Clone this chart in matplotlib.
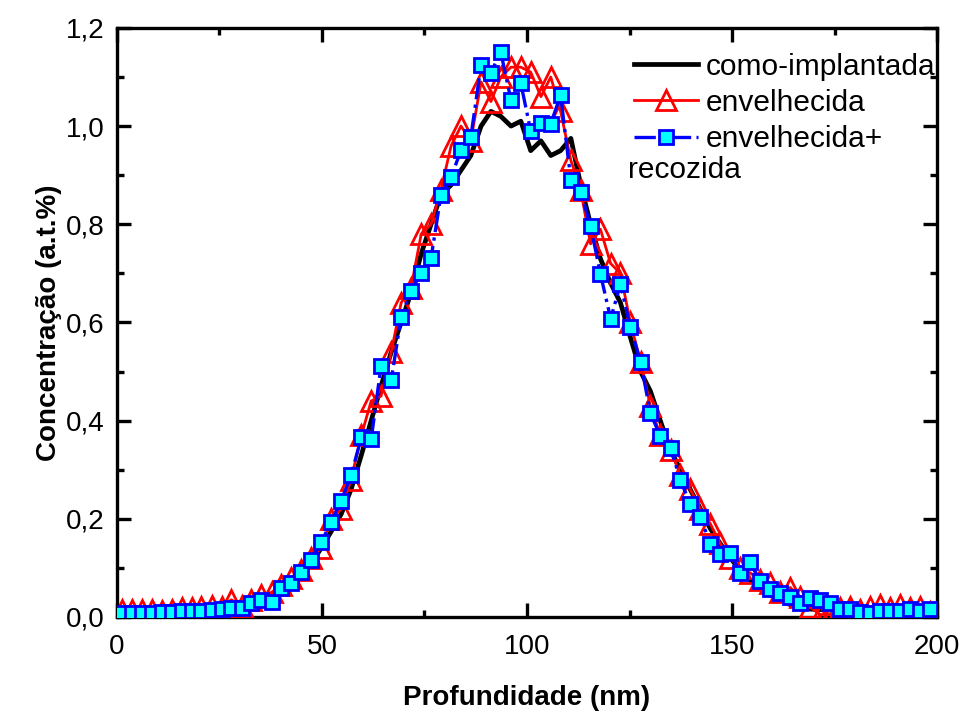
import matplotlib
matplotlib.use("Agg")
import matplotlib.pyplot as plt
from matplotlib.ticker import MultipleLocator, FuncFormatter

plt.rcParams["font.family"] = ["Liberation Sans", "DejaVu Sans"]

# depth grid (nm)
depth = [
    1.2, 3.6, 6.0, 8.5, 10.9, 13.3, 15.8, 18.2, 20.6, 23.1,
    25.5, 27.9, 30.4, 32.8, 35.2, 37.7, 40.1, 42.5, 45.0, 47.4,
    49.8, 52.3, 54.7, 57.1, 59.6, 62.0, 64.4, 66.9, 69.3, 71.7,
    74.2, 76.6, 79.0, 81.5, 83.9, 86.3, 88.8, 91.2, 93.6, 96.1,
    98.5, 100.9, 103.4, 105.8, 108.2, 110.7, 113.1, 115.5, 117.9, 120.4,
    122.8, 125.2, 127.7, 130.1, 132.5, 135.0, 137.4, 139.8, 142.3, 144.7,
    147.1, 149.6, 152.0, 154.4, 156.9, 159.3, 161.7, 164.2, 166.6, 169.0,
    171.5, 173.9, 176.3, 178.8, 181.2, 183.6, 186.1, 188.5, 190.9, 193.4,
    195.8, 198.2,
]

como_implantada = [
    0.005, 0.005, 0.005, 0.005, 0.005, 0.005, 0.005, 0.005, 0.005, 0.006,
    0.006, 0.008, 0.012, 0.018, 0.025, 0.035, 0.05, 0.065, 0.085, 0.11,
    0.14, 0.175, 0.21, 0.26, 0.33, 0.40, 0.47, 0.54, 0.60, 0.66,
    0.74, 0.80, 0.86, 0.88, 0.91, 0.94, 1.00, 1.03, 1.02, 1.00,
    1.01, 0.95, 0.97, 0.94, 0.95, 0.975, 0.88, 0.80, 0.73, 0.68,
    0.64, 0.57, 0.50, 0.46, 0.40, 0.34, 0.30, 0.26, 0.22, 0.18,
    0.15, 0.12, 0.095, 0.075, 0.06, 0.045, 0.035, 0.025, 0.02, 0.016,
    0.015, 0.014, 0.013, 0.012, 0.012, 0.011, 0.011, 0.01, 0.01, 0.01,
    0.01, 0.01,
]

envelhecida = [
    0.015, 0.015, 0.015, 0.015, 0.013, 0.015, 0.018, 0.018, 0.02, 0.022,
    0.02, 0.035, 0.022, 0.035, 0.045, 0.05, 0.065, 0.08, 0.095, 0.12,
    0.14, 0.20, 0.22, 0.28, 0.37, 0.44, 0.45, 0.54, 0.64, 0.67,
    0.78, 0.80, 0.87, 0.96, 1.00, 0.97, 1.09, 1.05, 1.10, 1.12,
    1.12, 1.11, 1.06, 1.10, 1.03, 0.93, 0.87, 0.76, 0.79, 0.72,
    0.70, 0.60, 0.52, 0.43, 0.37, 0.34, 0.29, 0.26, 0.22, 0.19,
    0.15, 0.12, 0.10, 0.09, 0.075, 0.07, 0.05, 0.06, 0.04, 0.02,
    0.005, 0.005, 0.018, 0.02, 0.015, 0.02, 0.025, 0.018, 0.025, 0.018,
    0.02, 0.01,
]

envelhecida_recozida = [
    0.008, 0.008, 0.008, 0.008, 0.01, 0.01, 0.012, 0.012, 0.012, 0.014,
    0.016, 0.018, 0.018, 0.028, 0.035, 0.031, 0.059, 0.069, 0.092, 0.116,
    0.153, 0.194, 0.237, 0.289, 0.366, 0.362, 0.511, 0.483, 0.611, 0.664,
    0.701, 0.731, 0.859, 0.896, 0.951, 0.978, 1.124, 1.109, 1.151, 1.053,
    1.087, 0.990, 1.007, 1.005, 1.063, 0.890, 0.865, 0.797, 0.699, 0.608,
    0.678, 0.591, 0.520, 0.415, 0.369, 0.345, 0.279, 0.230, 0.203, 0.149,
    0.128, 0.131, 0.089, 0.111, 0.074, 0.058, 0.048, 0.041, 0.029, 0.039,
    0.035, 0.029, 0.016, 0.016, 0.010, 0.008, 0.012, 0.012, 0.012, 0.016,
    0.012, 0.016,
]

fig = plt.figure(figsize=(9.7, 7.16), dpi=100)
ax = fig.add_axes([0.1206, 0.1383, 0.8454, 0.8227])

ax.plot(depth, como_implantada, color="black", lw=3.4, label="como-implantada", zorder=2)
ax.plot(depth, envelhecida, color="red", lw=2.0, ls="-", marker="^", ms=14,
        mfc="none", mec="red", mew=2.0, label="envelhecida", zorder=3)
ax.plot(depth, envelhecida_recozida, color="blue", lw=2.4, ls="-.", marker="s", ms=10,
        mfc="cyan", mec="blue", mew=2.0, label="envelhecida+", zorder=4)

ax.set_xlim(0, 200)
ax.set_ylim(0, 1.2)
ax.xaxis.set_major_locator(MultipleLocator(50))
ax.xaxis.set_minor_locator(MultipleLocator(25))
ax.yaxis.set_major_locator(MultipleLocator(0.2))
ax.yaxis.set_minor_locator(MultipleLocator(0.1))
ax.yaxis.set_major_formatter(FuncFormatter(lambda v, p: f"{v:.1f}".replace(".", ",")))
ax.xaxis.set_major_formatter(FuncFormatter(lambda v, p: f"{v:.0f}"))

ax.tick_params(which="both", direction="in", top=True, right=True, labelsize=20, width=2.4)
ax.tick_params(which="major", length=10)
ax.tick_params(which="minor", length=5)
ax.tick_params(axis="x", which="major", pad=12)
ax.tick_params(axis="y", which="major", pad=9)
for s in ax.spines.values():
    s.set_linewidth(2.4)

ax.set_xlabel("Profundidade (nm)", fontsize=20, fontweight="bold", labelpad=18)
ax.set_ylabel("Concentração (a.t.%)", fontsize=20, fontweight="bold", labelpad=3)

leg = ax.legend(loc="upper right", bbox_to_anchor=(1.013, 0.978), frameon=False, fontsize=21.5,
                handlelength=2.15, handletextpad=0.28, labelspacing=0.27, borderaxespad=0.0)
ax.text(0.623, 0.759, "recozida", transform=ax.transAxes, fontsize=21.5, va="center", ha="left")

fig.savefig("out.png", dpi=100)
